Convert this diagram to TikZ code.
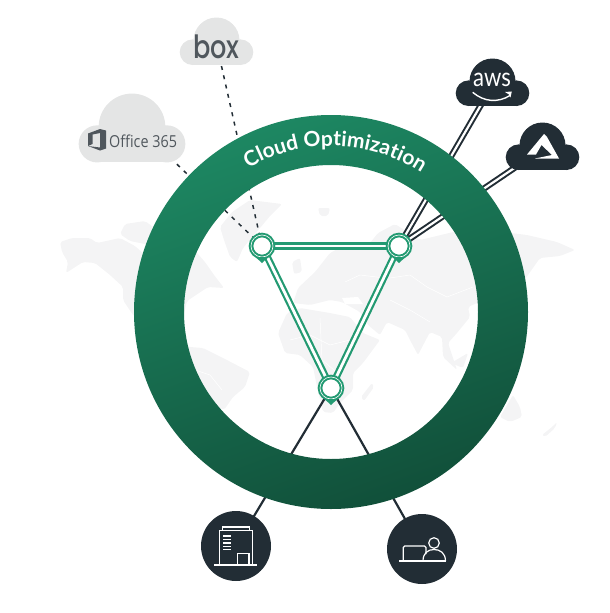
\documentclass[tikz,border=0pt]{standalone}
\usepackage{fontspec}
\usepackage{tikz}
\usetikzlibrary{backgrounds}
\usetikzlibrary{decorations.text}
\newfontfamily\titlefont{Lato}
\newfontfamily\logofont{Poppins Medium}
\newfontfamily\officefont{Open Sans}
\newfontfamily\awsfont{Lato}
\definecolor{inkdark}{HTML}{222D35}
\definecolor{pingreen}{HTML}{239A72}
\definecolor{ringtop}{HTML}{1D8762}
\definecolor{ringlow}{HTML}{11503A}
\definecolor{mapgrey}{HTML}{F4F4F5}
\definecolor{cloudgrey}{HTML}{E4E5E5}
\definecolor{logogrey}{HTML}{50575D}
\tikzset{
  pinnode/.style={circle,fill=white,draw=pingreen,line width=2pt,double=white,double distance=.6pt,minimum size=22pt,inner sep=0pt},
  greenlink/.style={draw=pingreen,line width=2.2pt,double=white,double distance=2.8pt},
  darklink/.style={draw=inkdark,line width=2pt,double=white,double distance=2.2pt},
  cablelink/.style={draw=inkdark,line width=2.2pt},
  dashlink/.style={draw=inkdark,line width=1.5pt,dash pattern=on 4pt off 5.5pt},
  sitenode/.style={circle,fill=inkdark,minimum size=70pt,inner sep=0pt},
  iconline/.style={draw=white,line width=1.2pt},
  landborder/.style={draw=white,line width=.5pt},
  land/.style={fill=mapgrey,rounded corners=2pt},
}
\begin{document}
\begin{tikzpicture}[x=1pt,y=-1pt]
\useasboundingbox (0,0) rectangle (610,613);

% clouds
\foreach \cx/\cy/\s/\col/\name in {216.5/44/1/cloudgrey/box,132/132/1.45/cloudgrey/office,492.5/85/1/inkdark/aws,542.5/149/1/inkdark/azure}{
  \begin{scope}[shift={(\cx,\cy)},scale=\s]
    \fill[\col] (0,-3.5) circle (23) (-24,8.2) circle (12.8) (24,8.2) circle (12.8);
    \fill[\col] (-24,-3) rectangle (24,21);
  \end{scope}
  \coordinate (\name) at (\cx,\cy);
}
\coordinate (officeport) at (132,121);

% logos
\node[text=logogrey,font=\logofont\fontsize{32}{32}\selectfont,inner sep=0pt,xscale=.8,transform shape] (boxlogo) at (216.5,47) {box};
\node[text=logogrey,font=\officefont\fontsize{16.5}{16.5}\selectfont,inner sep=0pt,anchor=west,xscale=.87,transform shape] (officelogo) at (109,141) {Office 365};
\fill[logogrey] (88,133.5)--(100,129)--(106,130.5)--(106,148.5)--(100,150.5)--(88,146)--(100,147.5)--(100,133)--(92.5,134.5)--(92.5,144)--(88,146)--cycle;
\node[text=white,font=\awsfont\fontsize{26}{26}\selectfont,inner sep=0pt,xscale=.85,transform shape] (awslogo) at (492,80) {aws};
\draw[white,line width=1.4pt] (472.7,92.3) .. controls (484,102) and (498,103) .. (510,95.5);
\fill[white] (505,92)--(511.8,91.5)--(510.5,97.5)--(509,94.5)--cycle;
\fill[white] (544,134)--(527,154.5)--(536,154.5)--(541.5,145)--(552,155)--(535,158.5)--(559,158.5)--(547,137)--cycle;

% sites
\node[sitenode] (officesite) at (236,546) {};
\node[sitenode] (homesite) at (422,549) {};
\draw[iconline] (214.3,565)--(257.3,565) (219.3,565)--(219.3,530.7)--(252.3,530.7)--(252.3,565);
\draw[iconline] (222.7,530.7)--(222.7,527)--(249.3,527)--(249.3,530.7);
\draw[iconline] (237.3,565)--(237.3,553.3)--(249,553.3)--(249,565);
\foreach \y in {536,539.4,542.8,546.2,549.6}{
  \draw[draw=white,line width=1.4pt] (223.3,\y)--(231,\y);
}
\draw[iconline] (399.3,561)--(445.7,561);
\draw[iconline,rounded corners=1.5pt] (403.3,561)--(403.3,546)--(426,546)--(426,554);
\draw[iconline] (434,543) circle (5.3);
\draw[iconline] (423,561) .. controls (423,553) and (428,549.5) .. (434,549.5) .. controls (440,549.5) and (445.5,553) .. (445.5,561);

% pins
\node[pinnode] (west) at (262,246) {};
\node[pinnode] (east) at (399,246) {};
\node[pinnode] (south) at (331,388) {};
\foreach \p in {west,east,south}{
  \fill[pingreen] (\p) ++(-6.5,11)--++(6.5,6)--++(6.5,-6)--cycle;
}

\begin{pgfonlayer}{background}
% map
\path[land] (60,242)--(72,238)--(90,238)--(97,243)--(120,238)--(135,246)--(145,255)--(165,250)--(190,245)--(205,262)--(214,275)--(224,288)--(208,287)--(187,301)--(180,330)--(150,330)--(133,315)--(123,300)--(123,287)--(110,275)--(95,263)--(83,262)--(66,273)--(68,262)--(62,252)--cycle;
\path[land] (125,224)--(145,221)--(160,232)--(150,245)--(130,241)--(120,234)--cycle;
\path[land] (220,227)--(232,212)--(250,200)--(282,204)--(270,216)--(260,228)--(243,248)--(237,262)--(230,257)--(224,240)--cycle;
\path[land] (180,345)--(190,347)--(203,348)--(223,358)--(250,372)--(245,387)--(233,397)--(224,410)--(205,400)--(180,385)--cycle;
\path[land] (278,333)--(287,313)--(300,308)--(330,313)--(350,317)--(363,333)--(380,340)--(363,363)--(353,373)--(353,390)--(340,403)--(333,413)--(323,412)--(317,387)--(313,367)--(300,355)--(285,353)--cycle;
\path[land] (372,383)--(374,387)--(364,401)--(361,397)--cycle;
\path[land] (330,253)--(345,245)--(370,243)--(378,233)--(395,224)--(420,240)--(470,228)--(527,235)--(557,242)--(575,250)--(560,256)--(540,258)--(528,275)--(510,300)--(477,303)--(468,307)--(470,317)--(457,333)--(448,343)--(457,370)--(443,357)--(442,337)--(430,332)--(418,355)--(410,340)--(405,330)--(387,322)--(380,335)--(368,325)--(360,312)--(342,302)--(330,300)--(310,305)--(293,303)--(298,288)--(315,272)--cycle;
\path[land] (292,262)--(300,258)--(302,272)--(294,274)--cycle;
\path[land] (318,208)--(330,208)--(328,216)--(320,216)--cycle;
\path[land] (500,417)--(513,395)--(520,407)--(522,417)--(510,422)--cycle;
\path[land] (542,435)--(552,427)--(557,422)--(555,428)--(545,437)--cycle;
\path[land] (451,363)--(468,353)--(463,368)--cycle;
\fill[white] (342,298)--(358,297)--(363,304)--(345,304)--cycle;
\draw[landborder] (390,278)--(410,275)--(427,287)--(447,297)--(473,287);
\draw[landborder] (345,282)--(360,275)--(385,278) (390,300)--(410,310)--(430,322);
\draw[landborder] (290,340)--(310,335)--(330,345)--(350,340) (320,318)--(322,360)--(340,375);
\draw[landborder] (195,370)--(210,375)--(222,390);

% links
\draw[dashlink] (west.center)--(box);
\draw[dashlink] (west.center)--(officeport);
\draw[darklink] (east.center)--(aws);
\draw[darklink] (east.center)--(azure);
\draw[cablelink] (south.center)--(officesite.center);
\draw[cablelink] (south.center)--(homesite.center);
\draw[greenlink] (west.center)--(east.center);
\draw[greenlink] (west.center)--(south.center);
\draw[greenlink] (east.center)--(south.center);

% ring
\shade[even odd rule,top color=ringtop,bottom color=ringlow,shading angle=20] (331,312) circle (197) (331,312) circle (147);
\path[decorate,decoration={text along path,text align=center,text={|\titlefont\bfseries\fontsize{21}{21}\selectfont\color{white}|Cloud Optimization}}]
  (331,312) ++(-130:166) arc (-130:-47:166);
\end{pgfonlayer}
\end{tikzpicture}
\end{document}
